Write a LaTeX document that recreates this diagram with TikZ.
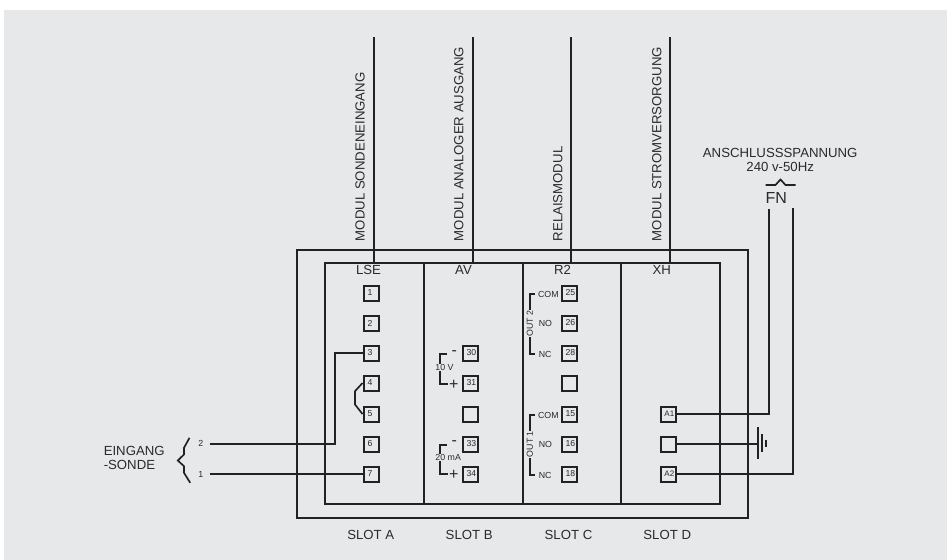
\documentclass[tikz,border=0pt]{standalone}
\usepackage{fontspec}
\setmainfont{Liberation Sans}
\definecolor{bgc}{HTML}{E7E8EA}
\definecolor{ink}{HTML}{222222}
\definecolor{txt}{HTML}{2A2A2A}
\tikzset{
  px/.style={x=0.75pt,y=-0.75pt},
  wire/.style={draw=ink,line width=1.5pt,line join=miter},
  slant/.style={wire,line width=1.25pt},
  term/.style={draw=ink,line width=1.5pt,fill=bgc,minimum size=11.25pt,inner sep=0pt,text=txt,font=\fontsize{6.5}{7}\selectfont},
  lab/.style={text=txt,inner sep=0pt,font=\fontsize{9.9}{10.5}\selectfont},
  small/.style={text=txt,inner sep=0pt,font=\fontsize{6.6}{7}\selectfont},
  vlab/.style={text=txt,inner sep=0pt,rotate=90,anchor=west,font=\fontsize{9.9}{10.5}\selectfont},
  gap/.style={small,fill=bgc,inner ysep=0.3pt,inner xsep=0.5pt},
  sign/.style={text=txt,inner sep=0pt,font=\fontsize{12}{12}\selectfont}
}
\newcommand{\R}[1]{\hspace*{2pt}#1}
\newcommand{\Ls}[1]{#1\hspace*{1.5pt}}
\begin{document}
\begin{tikzpicture}[px]
\useasboundingbox (0.5,0.5) rectangle (947.5,560.5);
\fill[white] (0.5,0.5) rectangle (947.5,560.5);
\fill[bgc] (4.5,10.5) rectangle (947.5,560.5);
% boxes
\coordinate (oTL) at (297.5,250.5);
\coordinate (oBR) at (748.5,518.5);
\coordinate (iTL) at (325.5,263.5);
\coordinate (iBR) at (720.5,504.5);
\draw[wire] (oTL) rectangle (oBR);
\draw[wire] (iTL) rectangle (iBR);
\foreach \x in {424.5,523.5,621.5} \draw[wire] (\x,263.5) -- (\x,504.5);
% module lines
\foreach \n/\x in {a/374.5,b/473.5,c/571.5,d/670.5} {
  \coordinate (top\n) at (\x,38);
  \coordinate (bot\n) at (\x,263.5);
  \draw[wire] (top\n) -- (bot\n);
}
\node[vlab] (m1) at (360.7,242) {MODUL SONDENEINGANG};
\node[vlab] (m2) at (459.3,242) {MODUL ANALOGER AUSGANG};
\node[vlab] (m3) at (558.3,242) {RELAISMODUL};
\node[vlab] (m4) at (657.3,242) {MODUL STROMVERSORGUNG};
% slot heads
\node[lab] (h1) at (369,270.7) {LSE};
\node[lab] (h2) at (464,270.7) {AV};
\node[lab] (h3) at (563,270.7) {R2};
\node[lab] (h4) at (662.3,270.7) {XH};
\node[lab] (s1) at (371.3,535) {SLOT A};
\node[lab] (s2) at (469.7,535) {SLOT B};
\node[lab] (s3) at (569,535) {SLOT C};
\node[lab] (s4) at (667.7,535) {SLOT D};
% terminals
\foreach \n/\y/\t in {1/293.5/1,2/323.5/2,3/353.5/3,4/383.5/4,5/414.5/5,6/444.5/6,7/474.5/7}
  \node[term] (l\n) at (371.5,\y) {\Ls{\t}};
\foreach \n/\y/\t in {30/353.5/30,31/383.5/31,33/444.5/33,34/474.5/34}
  \node[term] (v\n) at (470.5,\y) {\R{\t}};
\node[term] (ve) at (470.5,414.5) {};
\foreach \n/\y/\t in {25/293.5/25,26/323.5/26,28/353.5/28,15/414.5/15,16/444.5/16,18/474.5/18}
  \node[term] (r\n) at (569.5,\y) {\R{\t}};
\node[term] (re) at (569.5,383.5) {};
\node[term,font=\fontsize{6}{7}\selectfont] (xa) at (668.5,414.5) {\R{A1}};
\node[term] (xe) at (668.5,444.5) {};
\node[term,font=\fontsize{6}{7}\selectfont] (xb) at (668.5,474.5) {\R{A2}};
% input wires
\node[small] (in2) at (201.3,444.3) {2};
\node[small] (in1) at (201.3,475) {1};
\coordinate (w2) at (210,444.5);
\coordinate (w1) at (210,474.5);
\draw[wire] (w2) -- (335.5,444.5) -- (335.5,353.5) -- (l3.west);
\draw[wire] (w1) -- (l7.west);
\draw[slant] (l4.west) -- (355.5,391.7) -- (355.5,405) -- (l5.west);
% brace
\draw[slant] (190,438.3) -- (184.5,448.3) -- (184.5,455) -- (178.3,461) -- (184.5,466.7) -- (184.5,473.3) -- (190.7,483.3);
\node[lab,align=left,anchor=west] (eing) at (104,458.5) {EINGANG\\[-0.4pt]-SONDE};
% AV brackets
\draw[wire] (447.7,354.5) -- (440.5,354.5) -- (440.5,384.5) -- (448.7,384.5);
\draw[wire] (447.7,445.5) -- (440.5,445.5) -- (440.5,474.5) -- (448.7,474.5);
\node[sign] (vm1) at (454.7,354) {-};
\node[sign] (vp1) at (454.3,385) {+};
\node[sign] (vm2) at (454.7,444) {-};
\node[sign] (vp2) at (454.3,475) {+};
\node[gap] (t10) at (445,367.7) {10 V};
\node[gap] (t20) at (448.7,457.7) {20 mA};
% relay
\foreach \y/\t in {294.7/COM,415.7/COM}
  \node[small,anchor=west] at (538.3,\y) {\t};
\foreach \y/\t in {323.7/NO,355/NC,444.7/NO,476/NC}
  \node[small,anchor=west] at (539,\y) {\t};
\draw[wire] (535.7,294.5) -- (530.5,294.5) -- (530.5,354.5) -- (535.7,354.5);
\draw[wire] (535.7,415.5) -- (530.5,415.5) -- (530.5,475.5) -- (535.7,475.5);
\node[gap,rotate=90] (o2) at (530.3,324) {OUT 2};
\node[gap,rotate=90] (o1) at (530.3,444.7) {OUT 1};
% power
\node[lab,align=center] (ans) at (780.7,160.8) {ANSCHLUSSSPANNUNG\\240 v-50Hz};
\draw[slant] (766,185.5) -- (776,185.5) -- (781,180) -- (786,185.5) -- (796,185.5);
\node[lab,font=\fontsize{12}{13}\selectfont] (fn) at (776.7,198.3) {FN};
\coordinate (f1) at (769.5,209.3);
\coordinate (f2) at (793.5,208.3);
\draw[wire] (f1) -- (769.5,414.5) -- (xa.east);
\draw[wire] (f2) -- (793.5,474.5) -- (xb.east);
\coordinate (g1) at (758.5,444.5);
\draw[wire] (xe.east) -- (g1);
\draw[line width=1.5pt,draw=ink] (758.5,427.7) -- (758.5,459);
\draw[line width=1.5pt,draw=ink] (762.5,434.3) -- (762.5,452.3);
\draw[line width=1.6pt,draw=ink] (766.5,440) -- (766.5,447.3);
\end{tikzpicture}
\end{document}
